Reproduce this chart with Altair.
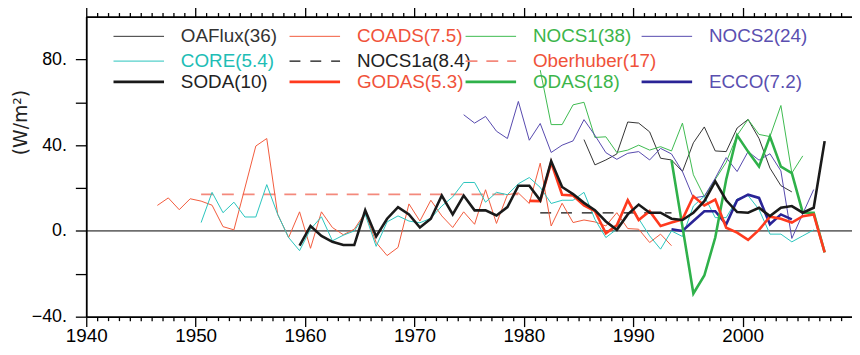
import altair as alt
import pandas as pd

# ---------------- data (W/m^2), annual values ----------------
oaflux_years = list(range(1985, 2005))
oaflux_vals = [42.6, 30.8, 33.1, 35.9, 50.8, 50.3, 46.2, 33.9, 33.1, 27.7,
               41.1, 48.5, 37.3, 37.0, 48.0, 52.0, 43.1, 29.3, 21.1, 18.2]

coads_years = list(range(1946, 1994))
coads_vals = [11.9, 15.4, 9.9, 15.0, 13.9, 12.0, 2.0, 0.5, 20.0, 39.6,
              43.1, 7.7, -3.1, 8.9, -8.1, 8.9, 1.6, -1.8, 0.8, 8.5,
              -5.4, -11.5, -7.7, 12.6, 4.6, 14.3, 7.0, 1.6, 8.9, 3.1,
              19.2, 3.5, 16.9, 17.7, 12.8, 31.6, 2.3, 12.9, 3.9, 5.1,
              4.2, 2.3, 8.5, 1.1, 0.8, -5.4, -1.5, -6.9]

nocs1_years = list(range(1981, 2006))
nocs1_vals = [75.0, 49.6, 49.6, 58.8, 60.0, 43.6, 43.9, 36.6, 37.7, 40.0,
              37.7, 39.3, 37.3, 50.3, 26.2, 16.0, 24.0, 32.0, 44.6, 52.0,
              45.0, 44.0, 58.5, 27.0, 35.0]

nocs2_years = list(range(1974, 2007))
nocs2_vals = [54.2, 50.3, 53.4, 46.5, 43.1, 60.4, 42.3, 50.1, 36.6, 40.0,
              42.0, 51.9, 44.6, 36.5, 33.4, 36.2, 37.0, 33.1, 38.5, 35.9,
              27.7, 15.4, 16.2, 24.6, 34.2, 27.7, 37.0, 33.0, 36.0, 28.0,
              -3.5, 8.0, 19.3]

core_years = list(range(1950, 2007))
core_vals = [3.9, 18.0, 8.5, 13.4, 6.5, 6.5, 21.6, 7.7, -3.1, -9.2,
             0.8, 6.6, -4.6, -2.0, 0.0, 7.7, -7.2, 4.2, 7.0, 4.6,
             3.8, 5.9, 11.6, 15.9, 22.6, 22.6, 13.4, 18.0, 16.9, 22.0,
             24.9, 20.3, 12.8, 14.3, 14.3, 18.0, 5.4, -3.1, 0.8, 14.9,
             5.7, -2.3, -8.5, 0.0, -2.6, 11.6, 16.2, 6.2, 6.2, 14.9,
             16.5, 10.0, -1.5, -1.5, -5.1, -2.3, 0.5]

nocs1a_years = [1981, 1993]
nocs1a_vals = [8.4, 8.4]

oberhuber_years = [1950, 1979]
oberhuber_vals = [17.0, 17.0]

soda_years = list(range(1959, 2008))
soda_vals = [-6.9, 2.3, -2.3, -5.1, -6.6, -6.6, 9.6, -2.6, 5.7, 11.1,
             7.7, 1.6, 5.7, 16.5, 7.7, 16.5, 9.6, 9.6, 7.2, 11.1,
             21.1, 21.1, 14.3, 32.6, 20.5, 17.2, 13.1, 9.7, 4.4, 0.5,
             7.7, 12.3, 8.5, 8.5, 5.7, 5.1, 8.5, 13.9, 23.1, 14.3,
             8.8, 8.5, 10.8, 6.9, 10.8, 11.6, 8.5, 10.8, 41.9]

godas_years = list(range(1980, 2008))
godas_vals = [14.0, 13.9, 31.9, 16.9, 16.5, 11.9, 9.2, -1.1, 2.6, 14.3,
              5.1, 9.2, 2.3, 3.9, 5.4, 16.2, 11.9, 14.6, 1.5, -0.8,
              -4.2, 0.5, 6.6, 5.7, 3.9, 6.9, 7.7, -10.0]

odas_years = list(range(1993, 2008))
odas_vals = [33.0, 2.0, -29.2, -20.8, -3.1, 24.0, 44.6, 37.0, 30.0, 44.0,
             30.0, 27.0, 8.5, 8.5, -10.0]

ecco_years = list(range(1993, 2005))
ecco_vals = [0.8, 0.0, 4.6, 9.2, 9.2, 3.1, 14.3, 16.9, 15.4, 3.1, 7.7, 5.4]

series_names = ["OAFlux", "COADS", "NOCS1", "NOCS2", "CORE", "NOCS1a",
                "Oberhuber", "SODA", "GODAS", "ODAS", "ECCO"]
legend_labels = ["OAFlux(36)", "COADS(7.5)", "NOCS1(38)", "NOCS2(24)",
                 "CORE(5.4)", "NOCS1a(8.4)", "Oberhuber(17)",
                 "SODA(10)", "GODAS(5.3)", "ODAS(18)", "ECCO(7.2)"]
legend_rows = [0, 0, 0, 0, 1, 1, 1, 2, 2, 2, 2]
legend_cols = [0, 1, 2, 3, 0, 1, 2, 0, 1, 2, 3]
y_title = "(W/m²)"

# ---------------- styles ----------------
line_colors = ["#333333", "#f25a3c", "#3dba4f", "#5548ad", "#28c4bd", "#111111",
               "#f4897c", "#1a1a1a", "#ff3a1e", "#2fb14a", "#2a2496"]
text_colors = ["#333333", "#f0523a", "#3cb54a", "#5a4fb0", "#20bdb5", "#222222",
               "#f0523a", "#222222", "#f0523a", "#3cb54a", "#5a4fb0"]
line_widths = [1.0, 1.0, 1.0, 1.0, 1.0, 1.3, 1.8, 2.6, 2.6, 2.6, 2.6]
line_dashes = [None, None, None, None, None, [11, 10], [12, 9],
               None, None, None, None]
draw_order = ["Oberhuber", "NOCS1a", "OAFlux", "COADS", "NOCS1", "NOCS2",
              "CORE", "ECCO", "ODAS", "GODAS", "SODA"]

series_data = {
    "OAFlux": (oaflux_years, oaflux_vals),
    "COADS": (coads_years, coads_vals),
    "NOCS1": (nocs1_years, nocs1_vals),
    "NOCS2": (nocs2_years, nocs2_vals),
    "CORE": (core_years, core_vals),
    "NOCS1a": (nocs1a_years, nocs1a_vals),
    "Oberhuber": (oberhuber_years, oberhuber_vals),
    "SODA": (soda_years, soda_vals),
    "GODAS": (godas_years, godas_vals),
    "ODAS": (odas_years, odas_vals),
    "ECCO": (ecco_years, ecco_vals),
}

rows = []
for name in draw_order:
    yrs, vals = series_data[name]
    for y, v in zip(yrs, vals):
        rows.append({"series": name, "year": y, "value": v})
df = pd.DataFrame(rows)

leg = pd.DataFrame({
    "series": series_names,
    "label": legend_labels,
    "row": legend_rows,
    "col": legend_cols,
    "tcolor": text_colors,
})

FONT = "Liberation Sans"
W, H = 773, 303
decades = list(range(1940, 2001, 10))
minor_years = [y for y in range(1941, 2010) if y % 10 != 0]

xscale = alt.Scale(domain=[1940, 2010], nice=False, zero=False)
yscale = alt.Scale(domain=[-40, 100], nice=False, zero=False)


def style(name):
    i = series_names.index(name)
    kw = dict(color=line_colors[i], strokeWidth=line_widths[i], clip=True)
    if line_dashes[i] is not None:
        kw["strokeDash"] = line_dashes[i]
    return kw


tick_df = pd.DataFrame({"year": [1940, 2010], "v": [0, 0]})
layers = []

# zero line
layers.append(alt.Chart(tick_df)
              .mark_line(color="black", strokeWidth=1)
              .encode(x=alt.X("year:Q", scale=xscale, axis=None),
                      y=alt.Y("v:Q", scale=yscale, axis=None)))

# data lines, one layer per series
for name in draw_order:
    layers.append(
        alt.Chart(df).transform_filter(alt.datum.series == name)
        .transform_calculate(xpos="datum.year + 0.5")
        .mark_line(**style(name))
        .encode(x=alt.X("xpos:Q", scale=xscale, axis=None),
                y=alt.Y("value:Q", scale=yscale, axis=None))
    )

ax_common = dict(title=None, grid=False, domainColor="black", tickColor="black")


def x_axis_layer(orient, values, size, domain, labels):
    return alt.Chart(tick_df).mark_point(opacity=0).encode(
        x=alt.X("year:Q", scale=xscale,
                axis=alt.Axis(orient=orient, values=values, tickSize=size,
                              tickWidth=1.3, labels=labels, domain=domain,
                              domainWidth=1.8, labelFontSize=19, labelFont=FONT,
                              labelColor="black", labelPadding=0, labelFlush=False,
                              format="d", **ax_common))
    )


layers.append(x_axis_layer("bottom", decades, 10, True, True))
layers.append(x_axis_layer("bottom", minor_years, 4, False, False))
layers.append(x_axis_layer("top", decades, 10, True, False))
layers.append(x_axis_layer("top", minor_years, 4, False, False))

# y axis
layers.append(
    alt.Chart(tick_df).mark_point(opacity=0).encode(
        y=alt.Y("v:Q", scale=yscale,
                axis=alt.Axis(orient="left", values=[-40, -20, 0, 20, 40, 60, 80],
                              tickSize=11, tickWidth=1.3, domainWidth=1.8,
                              labelExpr="datum.value % 40 === 0 ? format(datum.value, 'd') + '.' : ''",
                              labelFontSize=18, labelFont=FONT, labelColor="black",
                              labelPadding=9, grid=False, domainColor="black",
                              tickColor="black", title=None))
    )
)

# y axis title as a rotated text
layers.append(
    alt.Chart(pd.DataFrame({"t": [y_title]})).mark_text(
        angle=270, font="DejaVu Sans", fontSize=19, color="#222222",
        align="center", baseline="middle"
    ).encode(
        x=alt.value(-66), y=alt.value(107), text="t:N"
    )
)

# legend (inside plot, 4 columns x 3 rows)
COLW = 177.7
ROW_Y = [20, 45, 66]
for i, name in enumerate(series_names):
    r, c = legend_rows[i], legend_cols[i]
    sub = leg[leg.series == name]
    base = alt.Chart(sub).transform_calculate(
        lx="27.5 + %d * %f" % (c, COLW),
        lx2="78.5 + %d * %f" % (c, COLW),
        tx="95.5 + %d * %f" % (c, COLW),
        ly=str(ROW_Y[r]),
    )
    st = style(name)
    st.pop("clip")
    layers.append(base.mark_rule(**st).encode(
        x=alt.X("lx:Q", scale=None, axis=None), x2="lx2:Q",
        y=alt.Y("ly:Q", scale=None, axis=None)))
    layers.append(base.mark_text(align="left", baseline="middle", font=FONT,
                                 fontSize=19, color=text_colors[i]).encode(
        x=alt.X("tx:Q", scale=None, axis=None),
        y=alt.Y("ly:Q", scale=None, axis=None),
        text="label:N"))

chart = alt.layer(*layers).resolve_axis(
    x="independent", y="independent"
).properties(
    width=W, height=H,
    autosize=alt.AutoSizeParams(type="none"),
    padding={"left": 79, "top": 7, "right": 0, "bottom": 29},
).configure_view(stroke=None).configure(background="white")

chart.save("out.html", embed_options={"renderer": "svg", "actions": False})
